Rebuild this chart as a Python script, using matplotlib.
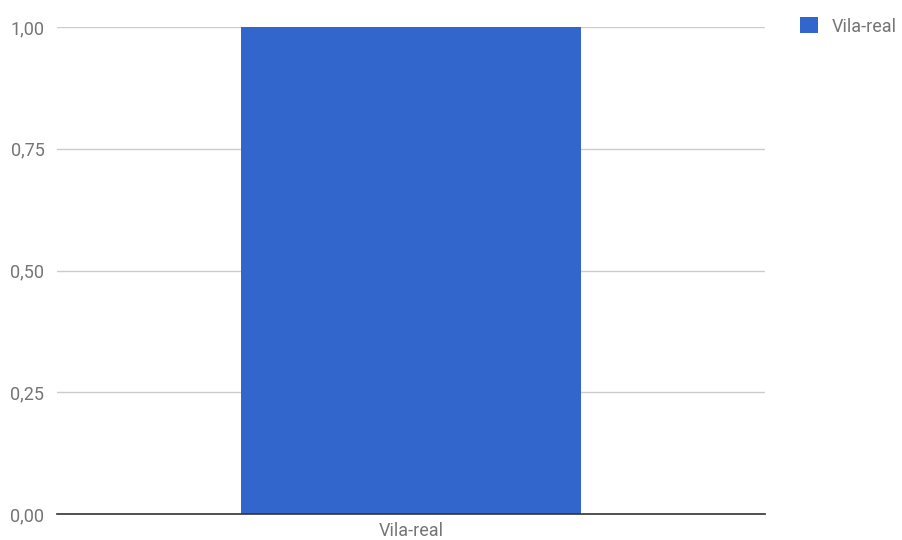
import matplotlib.pyplot as plt
from matplotlib.ticker import FuncFormatter

categories = ['Vila-real']
values = [1.0]
series_name = 'Vila-real'
y_ticks = [0, 0.25, 0.5, 0.75, 1.0]

plt.rcParams['font.family'] = ['Roboto', 'DejaVu Sans']

fig = plt.figure(figsize=(9.02, 5.4), dpi=100)
ax = fig.add_axes([57 / 902, 26 / 540, 708 / 902, 487 / 540])

ax.bar(categories, values, width=0.48, color='#3366cc', label=series_name, zorder=2)
ax.set_xlim(-0.5, 0.5)
ax.set_ylim(0, 1.0)
ax.set_yticks(y_ticks)
ax.yaxis.set_major_formatter(FuncFormatter(lambda v, p: f'{v:.2f}'.replace('.', ',')))
ax.grid(axis='y', color='#cccccc', linewidth=1, zorder=0)

for s in ['top', 'right', 'left']:
    ax.spines[s].set_visible(False)
ax.spines['bottom'].set_color('#333333')
ax.spines['bottom'].set_linewidth(1.2)
ax.spines['bottom'].set_zorder(3)
ax.tick_params(axis='both', length=0, labelsize=13, labelcolor='#757575')
ax.tick_params(axis='y', pad=9)
ax.tick_params(axis='x', pad=6)

ax.legend(loc='upper left', bbox_to_anchor=(784 / 902, 1 - 1 / 540),
          bbox_transform=fig.transFigure, frameon=False, fontsize=13,
          handlelength=1.0, handleheight=1.0, handletextpad=0.75,
          labelcolor='#757575')

fig.savefig('out.png', dpi=100)
